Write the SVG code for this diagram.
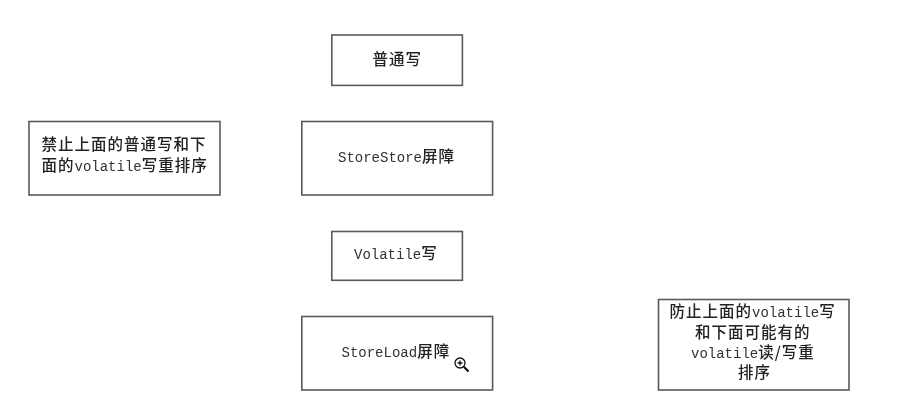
<svg xmlns="http://www.w3.org/2000/svg" width="904" height="401" viewBox="0 0 904 401">
<style>
rect.b{fill:#fff;stroke:#5a5a5a;stroke-width:1.6}
text{font-family:"Liberation Mono","Noto Sans CJK SC",monospace;font-size:14px;fill:#333;filter:url(#soft)}
.c{font-family:"Noto Sans CJK SC","Liberation Sans",sans-serif;font-size:15.5px;font-weight:500;letter-spacing:1px;fill:#222}
</style>
<defs><filter id="soft" x="-5%" y="-20%" width="110%" height="140%"><feGaussianBlur stdDeviation="0.4"/></filter></defs>
<rect width="904" height="401" fill="#fff"/>
<g id="n-putong"><rect class="b" x="331.8" y="35" width="130.6" height="50.4"/><text x="372.5" y="64.5"><tspan class="c">普通写</tspan></text></g>
<g id="n-storestore"><rect class="b" x="301.8" y="121.5" width="190.8" height="73.5"/><text x="338" y="162">StoreStore<tspan class="c">屏障</tspan></text></g>
<g id="n-volatile"><rect class="b" x="331.8" y="231.5" width="130.6" height="48.8"/><text x="354" y="259">Volatile<tspan class="c">写</tspan></text></g>
<g id="n-storeload"><rect class="b" x="301.8" y="316.5" width="190.8" height="73.5"/><text x="341.5" y="357">StoreLoad<tspan class="c">屏障</tspan></text>
<g fill="none" stroke="#111"><circle cx="460" cy="363" r="5" stroke-width="1.3"/><path d="M463.8 366.8L468.5 371.5" stroke-width="2.2"/><path d="M457.5 363h5M460 360.5v5" stroke-width="1.3"/></g></g>
<g id="n-left"><rect class="b" x="29" y="121.5" width="191" height="73.5"/><text x="41.5" y="149.5"><tspan class="c">禁止上面的普通写和下</tspan></text><text x="41.5" y="170.5"><tspan class="c">面的</tspan>volatile<tspan class="c">写重排序</tspan></text></g>
<g id="n-right"><rect class="b" x="658.5" y="299.5" width="190.5" height="90.5"/><text x="669.5" y="317"><tspan class="c">防止上面的</tspan>volatile<tspan class="c">写</tspan></text><text x="695" y="338"><tspan class="c">和下面可能有的</tspan></text><text x="691" y="358">volatile<tspan class="c">读/写重</tspan></text><text x="738" y="378"><tspan class="c">排序</tspan></text></g>
<g id="connectors"></g>
</svg>
